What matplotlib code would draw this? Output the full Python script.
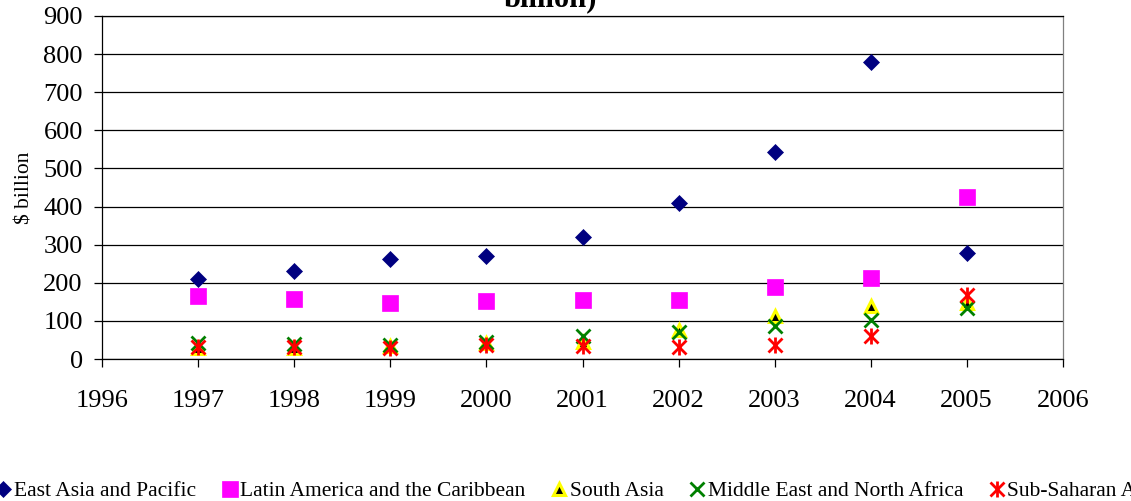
import matplotlib
matplotlib.use("Agg")
import matplotlib.pyplot as plt
from matplotlib.legend_handler import HandlerTuple

plt.rcParams['font.family'] = ['Liberation Serif', 'DejaVu Serif']

years = [1997, 1998, 1999, 2000, 2001, 2002, 2003, 2004, 2005]
east_asia = [210, 232, 262, 271, 319, 409, 544, 780, 279]
latin_america = [166, 157, 148, 151, 155, 156, 189, 213, 425]
south_asia = [30, 30, 35, 42, 45, 76, 113, 139, 146]
mena = [41, 39, 37, 45, 60, 70, 87, 102, 133]
sub_saharan = [32, 31, 30, 38, 34, 32, 37, 60, 168]

series_names = ["East Asia and Pacific", "Latin America and the Caribbean",
                "South Asia", "Middle East and North Africa", "Sub-Saharan Africa"]

fig = plt.figure(figsize=(11.31, 5.01), dpi=100)
ax = fig.add_axes([102.3 / 1131, 1 - 359 / 501, (1062.7 - 102.3) / 1131, (359 - 16) / 501])

h1, = ax.plot(years, east_asia, ls='none', marker='D', ms=7.8, color='#000080',
              mec='#000080', mew=0.5, zorder=3)
h2, = ax.plot(years, latin_america, ls='none', marker='s', ms=11, color='#FF00FF',
              mec='#FF00FF', mew=0.5, zorder=3)
h3, = ax.plot(years, south_asia, ls='none', marker='^', ms=9, color='black',
              mec='#FFFF00', mew=2.2, zorder=3)
h4, = ax.plot(years, mena, ls='none', marker='x', ms=10.5, color='#008000',
              mew=2.0, zorder=3)
# asterisk-style marker: an x with a vertical bar through it
h5a, = ax.plot(years, sub_saharan, ls='none', marker='x', ms=10.5, color='#FF0000',
               mew=2.0, zorder=3)
h5b, = ax.plot(years, sub_saharan, ls='none', marker='|', ms=12, color='#FF0000',
               mew=2.0, zorder=3)

ax.set_xlim(1996, 2006)
ax.set_ylim(0, 900)
ax.set_xticks(range(1996, 2007))
ax.set_yticks(range(0, 901, 100))
ax.yaxis.grid(True, color='black', lw=0.9)
ax.set_axisbelow(True)
for s in ax.spines.values():
    s.set_color('black')
    s.set_linewidth(0.9)
ax.spines['right'].set_color('#808080')
ax.tick_params(axis='both', direction='out', length=6, width=0.9, labelsize=19, colors='black')
ax.tick_params(axis='y', pad=8)
ax.tick_params(axis='x', pad=16)

ax.set_ylabel('$ billion', fontsize=15.5)
ax.yaxis.set_label_coords(-0.071, 0.5)

fig.text(550 / 1131, 1 - 6 / 501, 'billion)', ha='center', va='baseline',
         fontsize=22, fontweight='bold')

fig.legend([h1, h2, h3, h4, (h5a, h5b)], series_names, loc='center',
           bbox_to_anchor=(586 / 1131, 1 - 491 / 501), ncol=5, frameon=False,
           fontsize=15.5, handlelength=0.7, handletextpad=0.15, columnspacing=1.2,
           handler_map={tuple: HandlerTuple(ndivide=1, pad=0)})

fig.savefig('out.png', dpi=100)
